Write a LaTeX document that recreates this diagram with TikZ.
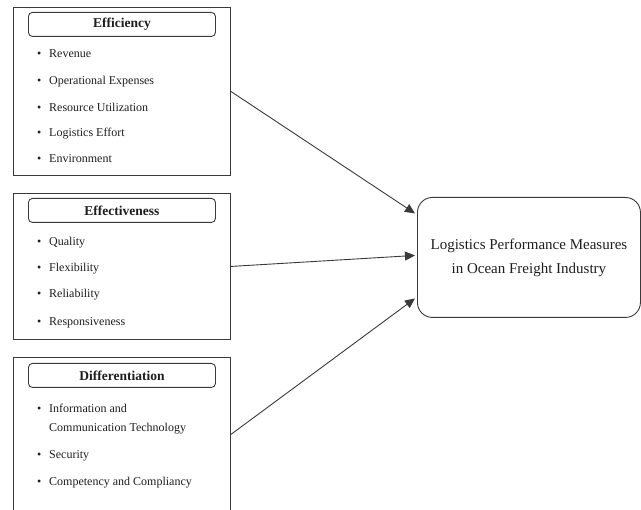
\documentclass[tikz,border=0pt]{standalone}
\usepackage{fontspec}
\setmainfont{Liberation Serif}
\usetikzlibrary{arrows.meta,calc}
\definecolor{linecol}{HTML}{3A3A3A}
\definecolor{txtcol}{HTML}{1E1E1E}
% bullet followed by a fixed gap
\newcommand{\bul}{\makebox[12pt][l]{\textbullet}}
\begin{document}
\begin{tikzpicture}[x=1pt,y=-1pt,
  frame/.style={draw=linecol, line width=0.9pt, inner sep=0pt, anchor=north west,
    minimum width=217pt},
  head/.style={draw=linecol, line width=0.9pt, rounded corners=4pt, minimum width=187pt,
    minimum height=24pt, inner sep=0pt, anchor=north west, text=txtcol,
    font=\fontsize{13.5}{16}\selectfont\bfseries},
  item/.style={anchor=base west, inner sep=0pt, text=txtcol, align=left,
    font=\fontsize{12}{19}\selectfont},
  target/.style={draw=linecol, line width=0.9pt, rounded corners=15pt,
    minimum width=223pt, minimum height=120pt, anchor=north west, align=center,
    text=txtcol, font=\fontsize{15}{24}\selectfont},
  link/.style={draw=linecol, line width=0.9pt, -{Triangle[length=10pt,width=9pt]}}
]
\useasboundingbox (0,0) rectangle (641,510);
\clip (0,0) rectangle (641,510);

% Efficiency group
\node[frame, minimum height=168pt] (eff) at (13,7) {};
\node[head] (effh) at (28,12) {Efficiency};
\node[item] (e1) at (37,58)  {\bul Revenue};
\node[item] (e2) at (37,85)  {\bul Operational Expenses};
\node[item] (e3) at (37,112) {\bul Resource Utilization};
\node[item] (e4) at (37,137) {\bul Logistics Effort};
\node[item] (e5) at (37,163) {\bul Environment};

% Effectiveness group
\node[frame, minimum height=146pt] (efv) at (13,193) {};
\node[head] (efvh) at (28,198) {Effectiveness};
\node[item] (f1) at (37,246) {\bul Quality};
\node[item] (f2) at (37,272) {\bul Flexibility};
\node[item] (f3) at (37,298) {\bul Reliability};
\node[item] (f4) at (37,326) {\bul Responsiveness};

% Differentiation group (runs past the lower edge)
\node[frame, minimum height=154pt] (dif) at (13,357) {};
\node[head] (difh) at (28,363) {Differentiation};
\node[item] (d1) at (37,413) {\begin{tabular}[t]{@{}l@{}l@{}}\bul & Information and\\ & Communication Technology\end{tabular}};
\node[item] (d2) at (37,459) {\bul Security};
\node[item] (d3) at (37,486) {\bul Competency and Compliancy};

% Outcome
\node[target] (perf) at (417,197) {Logistics Performance Measures\\in Ocean Freight Industry};

% Connectors
\draw[link] (eff.east) -- ($(perf.west)+(-2,-44)$);
\draw[link] (efv.east) -- ($(perf.west)+(-2,-2)$);
\draw[link] (dif.east) -- ($(perf.west)+(-2,41)$);
\end{tikzpicture}
\end{document}
